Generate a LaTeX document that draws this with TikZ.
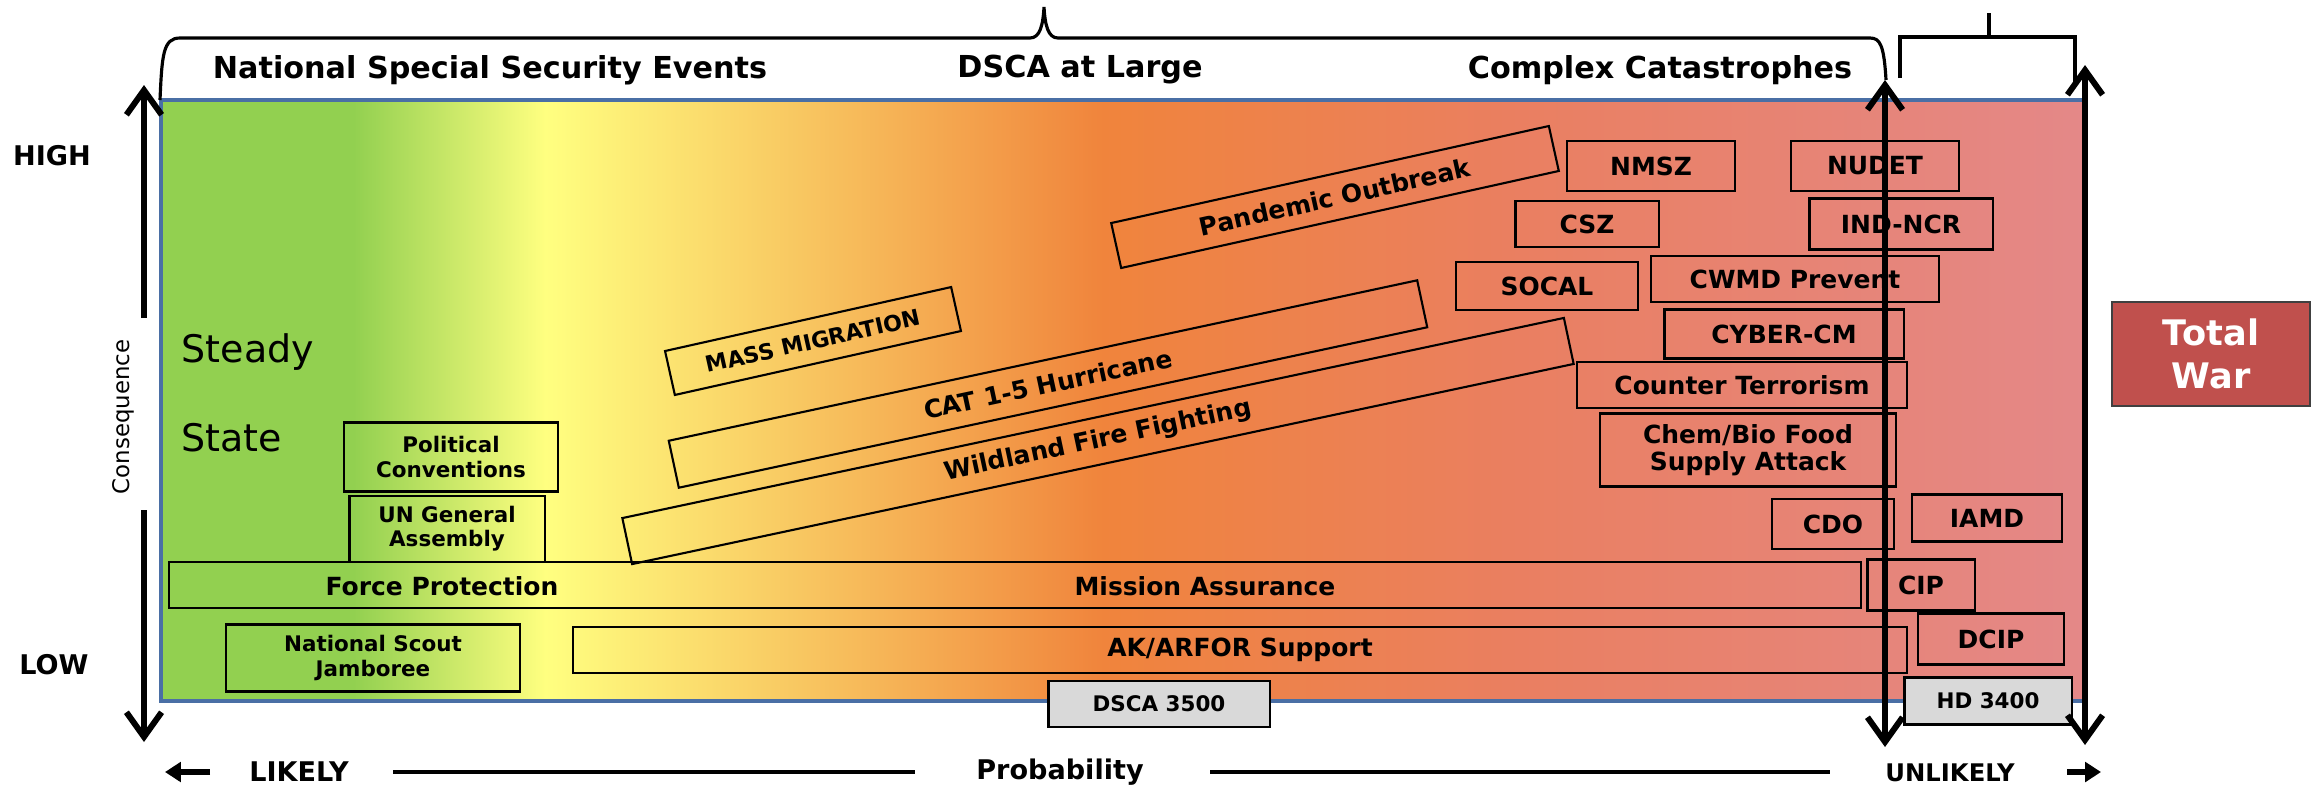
\documentclass[tikz,border=0pt]{standalone}
\usepackage{fontspec}
\setmainfont{DejaVu Sans}
\usetikzlibrary{arrows.meta}

\definecolor{tgreen}{HTML}{92D050}
\definecolor{tyellow}{HTML}{FFFF80}
\definecolor{torange}{HTML}{F0843C}
\definecolor{tsalmon}{HTML}{EA7F60}
\definecolor{tpink}{HTML}{E48888}
\definecolor{frameblue}{HTML}{4A6FA5}
\definecolor{warred}{HTML}{C0504D}
\definecolor{plangray}{HTML}{D9D9D9}

\pgfdeclarehorizontalshading{threatscale}{100bp}{color(0bp)=(tgreen); color(25bp)=(tgreen); color(30bp)=(tgreen); color(35bp)=(tyellow); color(49.5bp)=(torange); color(60bp)=(tsalmon); color(75bp)=(tpink); color(100bp)=(tpink)}

\newcommand\dscahead{\fontsize{8.6}{10}\selectfont\bfseries}
\newcommand\dscabox{\fontsize{7.1}{7.6}\selectfont\bfseries}
\newcommand\dscasmall{\fontsize{6.1}{6.9}\selectfont\bfseries}
\newcommand\dscaaxis{\fontsize{7.7}{9}\selectfont\bfseries}
\newcommand\dscawar{\fontsize{10}{12.2}\selectfont\bfseries}
\newcommand\dscastate{\fontsize{10.8}{12}\selectfont}
\newcommand\dscacons{\fontsize{6.5}{8}\selectfont}

\begin{document}
\begin{tikzpicture}[x=0.01cm,y=-0.01cm,
   evbox/.style={draw,line width=0.6pt,inner sep=0pt,align=center,font=\dscabox},
   dims/.style 2 args={minimum width=#1cm,minimum height=#2cm},
   planbox/.style={evbox,fill=plangray,font=\dscasmall},
   axisline/.style={line width=1.7pt},
   barb/.style={axisline,-{Straight Barb[length=7pt,width=10pt]}},
   twobarb/.style={axisline,{Straight Barb[length=7pt,width=10pt]}-{Straight Barb[length=7pt,width=10pt]}},
   pointer/.style={line width=1.5pt,-{Triangle[length=4.5pt,width=5.5pt]}}]
   \useasboundingbox (0,0) rectangle (2318,787);
   \shadedraw[shading=threatscale,draw=frameblue,line width=1pt] (161,100) rectangle (2084,701);

   \node (nsse) at (490,70) [font=\dscahead] {National Special Security Events};
   \node (atlarge) at (1080,70) [font=\dscahead] {DSCA at Large};
   \node (complex) at (1660,70) [font=\dscahead] {Complex Catastrophes};

   \node (high) at (52,156) [font=\dscaaxis] {HIGH};
   \node (low) at (54,665) [font=\dscaaxis] {LOW};
   \node (conseq) at (123,417) [rotate=90,font=\dscacons] {Consequence};
   \node (steady) at (181,352) [anchor=west,inner sep=0pt,font=\dscastate] {Steady};
   \node (state) at (181,438) [anchor=west,inner sep=0pt,font=\dscastate] {State};

   \node (political) at (451,457) [evbox,dims={2.14}{0.69},font=\dscasmall] {Political\\Conventions};
   \node (ungeneral) at (447,529) [evbox,dims={1.95}{0.66},font=\dscasmall] {UN General\\Assembly};
   \node (jamboree) at (373,658) [evbox,dims={2.94}{0.67},font=\dscasmall] {National Scout\\Jamboree};

   \node (migration) at (813,341) [evbox,dims={2.93}{0.45},rotate=12.6,font=\fontsize{6.3}{7}\selectfont\bfseries] {MASS MIGRATION};
   \node (pandemic) at (1335,197) [evbox,dims={4.48}{0.46},rotate=12.5] {Pandemic Outbreak};
   \node (hurricane) at (1048,384) [evbox,dims={7.65}{0.48},rotate=12.1] {CAT 1-5 Hurricane};
   \node (wildland) at (1098,441) [evbox,dims={9.62}{0.47},rotate=12.0] {Wildland Fire Fighting};

   \node (nmsz) at (1651,166) [evbox,dims={1.68}{0.50}] {NMSZ};
   \node (nudet) at (1875,166) [evbox,dims={1.68}{0.50}] {NUDET};
   \node (csz) at (1587,224) [evbox,dims={1.43}{0.46}] {CSZ};
   \node (indncr) at (1901,224) [evbox,dims={1.83}{0.51}] {IND-NCR};
   \node (socal) at (1547,286) [evbox,dims={1.82}{0.48}] {SOCAL};
   \node (cwmd) at (1795,279) [evbox,dims={2.88}{0.46}] {CWMD Prevent};
   \node (cyber) at (1784,334) [evbox,dims={2.39}{0.49}] {CYBER-CM};
   \node (counter) at (1742,385) [evbox,dims={3.29}{0.46}] {Counter Terrorism};
   \node (chembio) at (1748,450) [evbox,dims={2.96}{0.73}] {Chem/Bio Food\\Supply Attack};
   \node (cdo) at (1833,524) [evbox,dims={1.22}{0.50}] {CDO};
   \node (iamd) at (1987,518) [evbox,dims={1.50}{0.47}] {IAMD};
   \node (cip) at (1921,585) [evbox,dims={1.07}{0.51}] {CIP};
   \node (dcip) at (1991,639) [evbox,dims={1.46}{0.51}] {DCIP};

   \node (assurance) at (1015,585) [evbox,dims={16.91}{0.46}] {};
   \node (forceprot) at (442,586) [font=\dscabox] {Force Protection};
   \node (mission) at (1205,586) [font=\dscabox] {Mission Assurance};
   \node (arfor) at (1240,650) [evbox,dims={13.33}{0.46}] {AK/ARFOR Support};

   \node (dsca3500) at (1159,704) [planbox,dims={2.21}{0.46}] {DSCA 3500};
   \node (hd3400) at (1988,701) [planbox,dims={1.67}{0.47}] {HD 3400};

   \node (totalwar) at (2211,354) [evbox,dims={1.98}{1.04},fill=warred,draw=black!75,text=white,font=\dscawar] {Total\\War};

   \draw[line width=0.9pt] (160,100) .. controls (162,55) and (163,38) .. (180,38) -- (1030,38)
      .. controls (1040,38) and (1043,25) .. (1044,7) .. controls (1045,25) and (1048,38) .. (1058,38)
      -- (1870,38) .. controls (1880,38) and (1884,45) .. (1886,80);
   \draw[line width=0.9pt] (1900,78) -- (1900,37) -- (2075,37) -- (2075,86);
   \draw[line width=0.9pt] (1989,13) -- (1989,37);

   \coordinate (conshigh) at (144,85);
   \coordinate (consupper) at (144,318);
   \coordinate (conslower) at (144,510);
   \coordinate (conslow) at (144,742);
   \draw[barb] (consupper) -- (conshigh);
   \draw[barb] (conslower) -- (conslow);

   \coordinate (catatop) at (1885,80);
   \coordinate (catabot) at (1885,747);
   \coordinate (wartop) at (2085,65);
   \coordinate (warbot) at (2085,745);
   \draw[twobarb] (catatop) -- (catabot);
   \draw[twobarb] (wartop) -- (warbot);

   \node (likely) at (299,772) [font=\dscaaxis] {LIKELY};
   \node (probability) at (1060,772) [font=\dscaaxis] {Probability};
   \node (unlikely) at (1950,773) [font=\fontsize{6.9}{8}\selectfont\bfseries] {UNLIKELY};
   \coordinate (likelystem) at (210,772);
   \coordinate (likelytip) at (165,772);
   \coordinate (unlikelystem) at (2067,772);
   \coordinate (unlikelytip) at (2101,772);
   \coordinate (probleft) at (393,772);
   \coordinate (probmidl) at (915,772);
   \coordinate (probmidr) at (1210,772);
   \coordinate (probright) at (1830,772);
   \draw[pointer] (likelystem) -- (likelytip);
   \draw[pointer] (unlikelystem) -- (unlikelytip);
   \draw[line width=1.4pt] (probleft) -- (probmidl);
   \draw[line width=1.4pt] (probmidr) -- (probright);
\end{tikzpicture}
\end{document}
